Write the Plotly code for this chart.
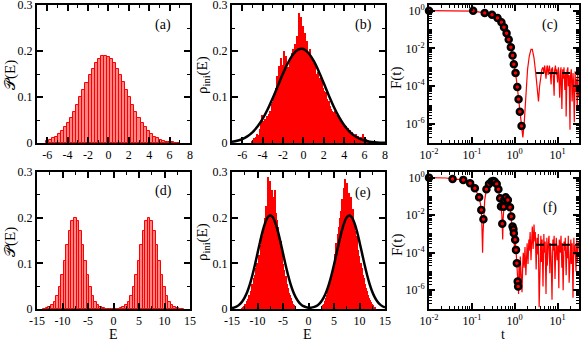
import numpy as np
import plotly.graph_objects as go

# ---------------- data ----------------
# (a) histogram of P(E), single band
a_bin_start = -6.0
a_bin_width = 0.3
a_heights = [0.004, 0.007, 0.010, 0.014, 0.019, 0.026, 0.034, 0.044, 0.055, 0.068,
             0.083, 0.099, 0.115, 0.131, 0.147, 0.161, 0.173, 0.182, 0.189, 0.190,
             0.188, 0.182, 0.173, 0.161, 0.147, 0.132, 0.115, 0.099, 0.083, 0.068,
             0.055, 0.044, 0.034, 0.026, 0.019, 0.014, 0.010, 0.007, 0.005, 0.003,
             0.002, 0.0013, 0.0008, 0.0005]

# (b) initial-state LDOS histogram + gaussian fit
b_bin_start = -5.0
b_bin_width = 0.1
b_heights = [0.004, 0.006, 0.010, 0.008, 0.014, 0.020, 0.018, 0.030, 0.045, 0.060,
             0.048, 0.040, 0.052, 0.044, 0.058, 0.050, 0.062, 0.070, 0.066, 0.085,
             0.090, 0.105, 0.098, 0.120, 0.145, 0.130, 0.168, 0.150, 0.185, 0.160,
             0.170, 0.200, 0.178, 0.190, 0.158, 0.165, 0.148, 0.185, 0.170, 0.195,
             0.205, 0.185, 0.215, 0.200, 0.232, 0.218, 0.282, 0.260, 0.275, 0.250,
             0.255, 0.230, 0.240, 0.210, 0.222, 0.195, 0.205, 0.168, 0.185, 0.175,
             0.160, 0.172, 0.150, 0.140, 0.155, 0.135, 0.142, 0.128, 0.138, 0.120,
             0.112, 0.105, 0.110, 0.095, 0.088, 0.092, 0.080, 0.075, 0.070, 0.068,
             0.064, 0.070, 0.058, 0.060, 0.052, 0.055, 0.048, 0.050, 0.044, 0.042,
             0.038, 0.034, 0.036, 0.030, 0.032, 0.025, 0.028, 0.022, 0.024, 0.020,
             0.018, 0.015, 0.020, 0.012, 0.016, 0.010, 0.014, 0.008, 0.020, 0.012,
             0.006, 0.008, 0.004, 0.003, 0.002]
b_fit_x = [-7.0, -6.5, -6.0, -5.5, -5.0, -4.5, -4.0, -3.5, -3.0, -2.5, -2.0, -1.5, -1.0, -0.5,
           0.0, 0.5, 1.0, 1.5, 2.0, 2.5, 3.0, 3.5, 4.0, 4.5, 5.0, 5.5, 6.0, 6.5, 7.0, 7.5, 8.0]
b_fit_y = [0.0026, 0.0048, 0.0085, 0.0144, 0.0232, 0.0357, 0.0524, 0.0733, 0.0977, 0.1243,
           0.1509, 0.1747, 0.1930, 0.2033, 0.2042, 0.1957, 0.1789, 0.1560, 0.1297, 0.1029,
           0.0778, 0.0562, 0.0387, 0.0254, 0.0159, 0.0095, 0.0054, 0.0029, 0.0015, 0.0007,
           0.0003]

# (d) histogram of P(E), two bands
d_bin_start = -13.5
d_bin_width = 0.5
d_heights = [0.0006, 0.0016, 0.0037, 0.0078, 0.0155, 0.0282, 0.0474, 0.0736, 0.1055, 0.1395,
             0.1704, 0.1922, 0.2000, 0.1922, 0.1704, 0.1395, 0.1055, 0.0736, 0.0474, 0.0282,
             0.0155, 0.0078, 0.0037, 0.0016, 0.0006, 0.0, 0.0, 0.0, 0.0, 0.0006,
             0.0016, 0.0037, 0.0078, 0.0155, 0.0282, 0.0474, 0.0736, 0.1055, 0.1395, 0.1704,
             0.1922, 0.2000, 0.1922, 0.1704, 0.1395, 0.1055, 0.0736, 0.0474, 0.0282, 0.0155,
             0.0078, 0.0037, 0.0016, 0.0006, 0.0]

# (e) LDOS histogram, two bands + gaussian fits
e_bin_width = 0.2
e_left_start = -13.0
e_left_heights = [0.002, 0.004, 0.006, 0.010, 0.012, 0.018, 0.022, 0.030, 0.028, 0.040,
                  0.055, 0.050, 0.068, 0.075, 0.090, 0.100, 0.118, 0.110, 0.140, 0.160,
                  0.150, 0.185, 0.200, 0.225, 0.210, 0.290, 0.255, 0.280, 0.235, 0.260,
                  0.245, 0.225, 0.260, 0.210, 0.195, 0.180, 0.165, 0.140, 0.150, 0.120,
                  0.098, 0.085, 0.070, 0.072, 0.055, 0.045, 0.035, 0.030, 0.024, 0.018,
                  0.012, 0.008, 0.005]
e_right_start = 2.6
e_right_heights = [0.004, 0.008, 0.012, 0.018, 0.025, 0.030, 0.040, 0.048, 0.060, 0.072,
                   0.070, 0.088, 0.100, 0.120, 0.145, 0.135, 0.165, 0.180, 0.200, 0.215,
                   0.240, 0.225, 0.265, 0.285, 0.250, 0.275, 0.240, 0.255, 0.230, 0.245,
                   0.210, 0.220, 0.185, 0.170, 0.150, 0.160, 0.130, 0.115, 0.100, 0.090,
                   0.075, 0.068, 0.055, 0.045, 0.040, 0.030, 0.025, 0.020, 0.015, 0.010,
                   0.008, 0.005, 0.003]
e_fit_x = [-15.0, -14.5, -14.0, -13.5, -13.0, -12.5, -12.0, -11.5, -11.0, -10.5,
           -10.0, -9.5, -9.0, -8.5, -8.0, -7.5, -7.0, -6.5, -6.0, -5.5,
           -5.0, -4.5, -4.0, -3.5, -3.0, -2.5, -2.0, -1.5, -1.0, -0.5,
           0.0, 0.5, 1.0, 1.5, 2.0, 2.5, 3.0, 3.5, 4.0, 4.5,
           5.0, 5.5, 6.0, 6.5, 7.0, 7.5, 8.0, 8.5, 9.0, 9.5,
           10.0, 10.5, 11.0, 11.5, 12.0, 12.5, 13.0, 13.5, 14.0, 14.5, 15.0]
e_fit_y = [0.0019, 0.0035, 0.0061, 0.0102, 0.0165, 0.0255, 0.0379, 0.0540, 0.0738, 0.0968,
           0.1218, 0.1469, 0.1700, 0.1886, 0.2008, 0.2050, 0.2008, 0.1886, 0.1700, 0.1469,
           0.1218, 0.0968, 0.0738, 0.0540, 0.0379, 0.0255, 0.0165, 0.0102, 0.0061, 0.0041,
           0.0029, 0.0029, 0.0040, 0.0061, 0.0102, 0.0165, 0.0255, 0.0379, 0.0540, 0.0738,
           0.0968, 0.1218, 0.1469, 0.1700, 0.1886, 0.2008, 0.2050, 0.2008, 0.1886, 0.1700,
           0.1469, 0.1218, 0.0968, 0.0738, 0.0540, 0.0379, 0.0255, 0.0165, 0.0102, 0.0061,
           0.0035]

# (c) survival probability F(t), stored as log10 values
c_line_logt = [-2.00, -1.50, -1.20, -0.97, -0.70, -0.53, -0.40, -0.31, -0.25, -0.19,
               -0.14, -0.09, -0.05, -0.02, 0.02, 0.06, 0.09, 0.12, 0.16, 0.19,
               0.22, 0.26, 0.30, 0.34, 0.38, 0.41, 0.45, 0.49, 0.53, 0.555,
               0.58, 0.61, 0.635,
               0.66, 0.68, 0.70, 0.71, 0.73, 0.75, 0.76, 0.78, 0.80, 0.81,
               0.83, 0.85, 0.86, 0.88, 0.90, 0.92, 0.93, 0.95, 0.97, 0.98,
               1.00, 1.02, 1.03, 1.05, 1.07, 1.08, 1.10, 1.12, 1.14, 1.15,
               1.17, 1.19, 1.20, 1.22, 1.24, 1.25, 1.27, 1.29, 1.30, 1.32,
               1.34, 1.36, 1.37, 1.39, 1.41, 1.42, 1.44, 1.46, 1.47, 1.49]
c_line_logF = [0.00, 0.00, -0.01, -0.02, -0.12, -0.21, -0.39, -0.61, -0.88, -1.19,
               -1.53, -1.93, -2.37, -2.84, -3.30, -4.04, -4.68, -5.35, -6.10, -6.70,
               -6.00, -4.40, -3.10, -2.40, -2.05, -2.05, -2.50, -3.30, -4.40, -4.80,
               -4.00, -3.40, -3.10,
               -3.0, -3.3, -2.9, -3.2, -3.6, -3.0, -2.9, -3.4, -3.1, -2.9,
               -3.3, -3.9, -3.1, -3.0, -3.5, -4.5, -3.2, -2.9, -3.4, -3.1,
               -3.8, -3.0, -3.3, -4.6, -3.2, -3.0, -5.2, -3.1, -3.6, -3.0,
               -4.2, -3.3, -5.6, -3.2, -3.0, -4.0, -3.4, -6.3, -3.5, -3.1,
               -4.8, -3.3, -3.7, -5.9, -3.2, -4.3, -3.6, -5.3, -3.3, -4.6]
c_dots_logt = [-2.00, -0.97, -0.70, -0.53, -0.40, -0.31, -0.25, -0.19, -0.14, -0.09,
               -0.05, -0.02, 0.02, 0.06, 0.09, 0.12, 0.16]
c_dots_logF = [0.00, 0.00, -0.12, -0.21, -0.39, -0.61, -0.88, -1.19, -1.53, -1.93,
               -2.37, -2.84, -3.30, -4.04, -4.68, -5.35, -6.10]
c_dash_logt = [0.50, 1.50]
c_dash_logF = [-3.30, -3.30]

# (f) survival probability F(t), two-band case
f_line_logt = [-2.00, -1.60, -1.45, -1.30, -1.20, -1.10, -1.04, -0.98, -0.93, -0.88,
               -0.83, -0.80, -0.78, -0.765, -0.75, -0.74, -0.73, -0.70, -0.66, -0.60,
               -0.54, -0.50, -0.47, -0.42, -0.38, -0.34, -0.32, -0.30, -0.29, -0.28,
               -0.27, -0.26, -0.24, -0.21, -0.18, -0.16, -0.13, -0.11, -0.08, -0.065,
               -0.05, -0.03, -0.02, -0.005, 0.01, 0.03, 0.05, 0.07, 0.08, 0.09,
               0.10, 0.12, 0.13, 0.15, 0.17, 0.19, 0.20, 0.22, 0.24, 0.26,
               0.27, 0.29, 0.31, 0.33, 0.34, 0.36, 0.38, 0.40, 0.41, 0.43,
               0.45, 0.47, 0.48, 0.50, 0.52, 0.54, 0.55, 0.57, 0.59, 0.61,
               0.62, 0.64, 0.66, 0.68, 0.69, 0.71, 0.73, 0.75, 0.76, 0.78,
               0.80, 0.82, 0.83, 0.85, 0.87, 0.89, 0.90, 0.92, 0.94, 0.96,
               0.97, 0.99, 1.01, 1.03, 1.04, 1.06, 1.08, 1.10, 1.11, 1.13,
               1.15, 1.17, 1.18, 1.20, 1.22, 1.24, 1.25, 1.27, 1.29, 1.31,
               1.32, 1.34, 1.36, 1.38, 1.39, 1.41, 1.43, 1.45, 1.46, 1.48, 1.50]
f_line_logF = [0.00, -0.02, -0.07, -0.09, -0.12, -0.20, -0.30, -0.42, -0.57, -0.80,
               -1.05, -1.40, -1.72, -2.60, -4.00, -3.00, -2.22, -1.20, -0.62, -0.34,
               -0.21, -0.18, -0.21, -0.34, -0.62, -1.10, -1.54, -2.00, -2.46, -3.30,
               -2.20, -1.55, -1.19, -1.05, -1.05, -1.19, -1.40, -1.58, -2.07, -2.90,
               -2.60, -2.75, -2.96, -3.80, -3.31, -3.85, -4.56, -5.53, -5.80, -6.20,
               -4.6, -5.5, -4.2, -5.0, -6.1, -4.4, -4.0, -4.8, -3.7, -5.2,
               -4.1, -3.5, -4.6, -3.3, -3.9, -2.9, -4.4, -3.1, -2.6, -3.8,
               -2.5, -3.4, -2.9, -4.9, -3.2, -4.1, -3.0, -6.9, -3.6, -3.1,
               -4.5, -3.3, -5.8, -3.0, -4.0, -3.4, -6.2, -3.2, -4.7, -3.6,
               -3.1, -5.1, -3.5, -4.2, -6.5, -3.3, -3.9, -3.1, -5.4, -3.7,
               -3.2, -4.4, -3.6, -5.9, -3.3, -4.0, -3.1, -4.8, -3.5, -6.0,
               -3.4, -3.9, -3.2, -5.2, -3.6, -4.3, -3.1, -5.6, -3.8, -3.3,
               -4.6, -3.5, -6.4, -3.2, -4.1, -3.6, -5.0, -3.3, -4.5, -3.7, -3.4]
f_dots_logt = [-2.00, -1.45, -1.20, -1.04, -0.93, -0.83, -0.78, -0.73, -0.66, -0.60,
               -0.54, -0.50, -0.47, -0.42, -0.38, -0.34, -0.32, -0.29, -0.26, -0.24,
               -0.21, -0.16, -0.11, -0.08, -0.05, -0.03, -0.02, 0.01, 0.03, 0.05,
               0.07, 0.08]
f_dots_logF = [0.00, -0.07, -0.12, -0.30, -0.57, -1.05, -1.72, -2.22, -0.62, -0.34,
               -0.21, -0.18, -0.21, -0.34, -0.62, -1.10, -1.54, -2.46, -1.55, -1.19,
               -1.05, -1.19, -1.58, -2.07, -2.60, -2.75, -2.96, -3.31, -3.85, -4.56,
               -5.53, -5.80]
f_dash_logt = [0.50, 1.50]
f_dash_logF = [-3.58, -3.58]

panel_labels = ["(a)", "(b)", "(c)", "(d)", "(e)", "(f)"]

# ---------------- figure ----------------
W, H = 581, 340
FONT = "Liberation Serif"
RED = "#ff0000"
PINK = "#ff8585"


def centers(start, width, n):
    return start + width * np.arange(n)


def dom_x(left, right):
    return [left / W, right / W]


def dom_y(top, bottom):
    return [1 - bottom / H, 1 - top / H]


fig = go.Figure()

# (a)
fig.add_trace(go.Bar(x=centers(a_bin_start, a_bin_width, len(a_heights)), y=a_heights,
                     width=a_bin_width, marker=dict(color=PINK, line=dict(color=RED, width=1)),
                     xaxis="x", yaxis="y"))
# (b)
fig.add_trace(go.Bar(x=centers(b_bin_start, b_bin_width, len(b_heights)), y=b_heights,
                     width=b_bin_width, marker=dict(color=RED, line=dict(width=0)),
                     xaxis="x2", yaxis="y2"))
fig.add_trace(go.Scatter(x=b_fit_x, y=b_fit_y, mode="lines", line=dict(color="black", width=2.5, shape="spline"),
                         xaxis="x2", yaxis="y2"))
# (d)
fig.add_trace(go.Bar(x=centers(d_bin_start, d_bin_width, len(d_heights)), y=d_heights,
                     width=d_bin_width, marker=dict(color=PINK, line=dict(color=RED, width=1)),
                     xaxis="x4", yaxis="y4"))
# (e)
fig.add_trace(go.Bar(x=centers(e_left_start, e_bin_width, len(e_left_heights)), y=e_left_heights,
                     width=e_bin_width, marker=dict(color=RED, line=dict(width=0)),
                     xaxis="x5", yaxis="y5"))
fig.add_trace(go.Bar(x=centers(e_right_start, e_bin_width, len(e_right_heights)), y=e_right_heights,
                     width=e_bin_width, marker=dict(color=RED, line=dict(width=0)),
                     xaxis="x5", yaxis="y5"))
fig.add_trace(go.Scatter(x=e_fit_x, y=e_fit_y, mode="lines", line=dict(color="black", width=2.5, shape="spline"),
                         xaxis="x5", yaxis="y5"))

# (c) and (f)
for xa, ya, lt, lf, dt, df, ht, hf in [
        ("x3", "y3", c_line_logt, c_line_logF, c_dots_logt, c_dots_logF, c_dash_logt, c_dash_logF),
        ("x6", "y6", f_line_logt, f_line_logF, f_dots_logt, f_dots_logF, f_dash_logt, f_dash_logF)]:
    fig.add_trace(go.Scatter(x=10 ** np.array(lt), y=10 ** np.array(lf), mode="lines",
                             line=dict(color=RED, width=1.2), xaxis=xa, yaxis=ya))
    fig.add_trace(go.Scatter(x=10 ** np.array(ht), y=10 ** np.array(hf), mode="lines",
                             line=dict(color="black", width=2, dash="8px,5px"), xaxis=xa, yaxis=ya))
    fig.add_trace(go.Scatter(x=10 ** np.array(dt), y=10 ** np.array(df), mode="markers",
                             marker=dict(symbol="circle", size=6, color=RED, line=dict(color="black", width=2.5)),
                             cliponaxis=False, xaxis=xa, yaxis=ya))

axis_common = dict(showline=True, linecolor="black", linewidth=2, mirror="allticks",
                   ticks="inside", ticklen=6, tickwidth=1.5, tickcolor="black",
                   showgrid=False, zeroline=False, automargin=False,
                   ticklabeloverflow="allow",
                   tickfont=dict(family=FONT, size=12, color="black"))
minor_common = dict(ticks="inside", ticklen=3, tickwidth=1, tickcolor="black", showgrid=False)

cols = [dom_x(37, 190), dom_x(232, 385), dom_x(429, 579)]
rows = [dom_y(5, 143), dom_y(172, 309)]


def lin_x(vals):
    return dict(tickmode="array", tickvals=vals, ticktext=[str(v) for v in vals])


def log_ticks(exps):
    return dict(tickmode="array", tickvals=[10.0 ** e for e in exps],
                ticktext=["10<sup>%d</sup>" % e for e in exps])


def log_minor(exps, odd=()):
    vals = [k * 10.0 ** e for e in exps for k in range(2, 10)]
    return vals + [10.0 ** e for e in odd]


y_lin = dict(range=[0, 0.3], tickmode="array", tickvals=[0, 0.1, 0.2, 0.3],
             ticktext=["0", "0.1", "0.2", "0.3"], minor=dict(minor_common, tickmode="linear", tick0=0, dtick=0.05))

layout_axes = {}
for r in range(2):
    for c in range(3):
        n = r * 3 + c + 1
        sx = "" if n == 1 else str(n)
        xa = dict(axis_common, domain=cols[c], anchor="y" + sx)
        ya = dict(axis_common, domain=rows[r], anchor="x" + sx)
        if c < 2:
            if r == 0:
                xa.update(range=[-7, 8], **lin_x([-6, -4, -2, 0, 2, 4, 6, 8]),
                          minor=dict(minor_common, tickmode="linear", tick0=0, dtick=1))
            else:
                xa.update(range=[-15, 15], **lin_x([-15, -10, -5, 0, 5, 10, 15]),
                          minor=dict(minor_common, tickmode="linear", tick0=0, dtick=2.5))
            ya.update(y_lin)
        else:
            xa.update(type="log", range=[-2, 1.5], **log_ticks([-2, -1, 0, 1]),
                      minor=dict(minor_common, tickmode="array", tickvals=log_minor([-2, -1, 0, 1])))
            ya.update(type="log", range=[-7, 0.3], **log_ticks([0, -2, -4, -6]),
                      minor=dict(minor_common, tickmode="array",
                                 tickvals=log_minor(list(range(-7, 1)), odd=[-1, -3, -5, -7])))
        layout_axes["xaxis" + sx] = xa
        layout_axes["yaxis" + sx] = ya

fig.update_layout(**layout_axes)

# annotations: panel labels, axis titles
ann = []
label_pos = [(163, 25), (363, 25), (550, 25), (163, 191), (363, 193), (550, 208)]
for txt, (x, y) in zip(panel_labels, label_pos):
    ann.append(dict(text=txt, x=x / W, y=1 - y / H))
for r, yc in enumerate([75, 242]):
    ann.append(dict(text="\U0001D4AB(E)", x=10 / W, y=1 - yc / H, textangle=-90, size=15))
    ann.append(dict(text="\u03c1<sub>ini</sub>(E)", x=203 / W, y=1 - yc / H, textangle=-90, size=15))
    ann.append(dict(text="F(t)", x=397 / W, y=1 - (yc + 3) / H, textangle=-90, size=15))
ann.append(dict(text="E", x=113 / W, y=1 - 334.5 / H, size=14))
ann.append(dict(text="E", x=307 / W, y=1 - 334.5 / H, size=14))
ann.append(dict(text="t", x=503 / W, y=1 - 334.5 / H, size=14))

annotations = []
for a in ann:
    annotations.append(dict(xref="paper", yref="paper", x=a["x"], y=a["y"], text=a["text"],
                            showarrow=False, xanchor="center", yanchor="middle",
                            textangle=a.get("textangle", 0),
                            font=dict(family=FONT, size=a.get("size", 14), color="black")))

fig.update_layout(width=W, height=H, autosize=False,
                  margin=dict(l=0, r=0, t=0, b=0),
                  paper_bgcolor="white", plot_bgcolor="white",
                  template="none", showlegend=False,
                  barmode="overlay", bargap=0,
                  annotations=annotations)

# the page body has a default 8px margin; drop it so the figure sits at (0, 0)
fig.write_html("out.html", config={"displayModeBar": False},
               post_script="document.body.style.margin='0';")
